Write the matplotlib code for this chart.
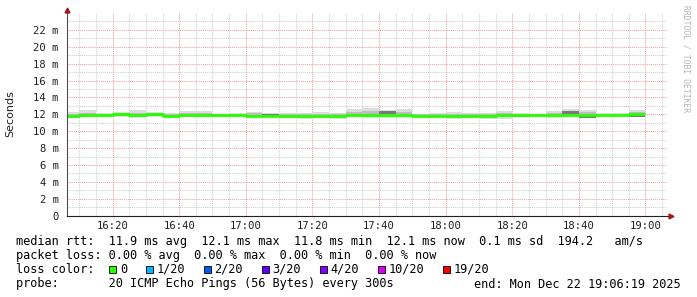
import matplotlib
matplotlib.use("Agg")
import matplotlib.pyplot as plt
import numpy as np
from matplotlib.patches import Rectangle

W, H = 697, 297
MONO = "DejaVu Sans Mono"

# 5-minute bins, minutes after 16:00 (bin start)
bin_start = list(range(5, 180, 5))
median = [11.80, 11.92, 11.92, 12.00, 11.96, 12.00, 11.83, 11.88, 11.90, 11.88,
          11.88, 11.83, 11.80, 11.82, 11.80, 11.84, 11.83, 11.88, 11.92, 11.88,
          11.92, 11.84, 11.84, 11.84, 11.84, 11.84, 11.87, 11.92, 11.92, 11.90,
          11.88, 11.88, 11.88, 11.88, 12.00]
ping_min = [11.61, 11.65, 11.65, 11.65, 11.61, 11.72, 11.61, 11.65, 11.65, 11.72,
            11.68, 11.65, 11.70, 11.61, 11.49, 11.61, 11.49, 11.68, 11.61, 11.61,
            11.61, 11.68, 11.68, 11.49, 11.61, 11.49, 11.49, 11.65, 11.65, 11.61,
            11.65, 11.57, 11.80, 11.80, 11.72]
ping_max = [12.28, 12.51, 12.16, 12.28, 12.51, 12.28, 12.16, 12.35, 12.35, 12.08,
            12.16, 12.28, 12.12, 12.20, 12.16, 12.28, 12.16, 12.65, 12.80, 12.50,
            12.65, 12.08, 12.16, 12.28, 12.20, 12.16, 12.45, 12.12, 12.04, 12.35,
            12.65, 12.51, 12.12, 12.12, 12.55]
q_low = [11.70, 11.75, 11.75, 11.75, 11.72, 11.80, 11.72, 11.76, 11.76, 11.78,
         11.76, 11.74, 11.75, 11.72, 11.68, 11.72, 11.68, 11.78, 11.80, 11.76,
         11.80, 11.76, 11.76, 11.72, 11.74, 11.70, 11.72, 11.76, 11.78, 11.76,
         11.76, 11.70, 11.82, 11.82, 11.80]
q_high = [12.08, 12.20, 12.06, 12.16, 12.20, 12.16, 12.02, 12.20, 12.16, 12.00,
          12.04, 12.20, 12.06, 12.06, 12.02, 12.10, 12.04, 12.30, 12.38, 12.36,
          12.30, 12.00, 12.04, 12.10, 12.06, 12.04, 12.20, 12.04, 12.00, 12.14,
          12.36, 12.26, 12.04, 12.04, 12.30]
dark_low = [np.nan] * 12 + [11.92] + [np.nan] * 6 + [12.04] + [np.nan] * 7 + [11.65] \
    + [np.nan] * 2 + [12.08, 11.61] + [np.nan] * 2 + [11.72]
dark_high = [np.nan] * 12 + [12.10] + [np.nan] * 6 + [12.35] + [np.nan] * 7 + [11.88] \
    + [np.nan] * 2 + [12.35, 11.80] + [np.nan] * 2 + [11.88]

t_start, t_end = 6 + 19 / 60, 186 + 19 / 60
xtick_pos = [20, 40, 60, 80, 100, 120, 140, 160, 180]
xtick_lab = ["16:20", "16:40", "17:00", "17:20", "17:40", "18:00", "18:20", "18:40", "19:00"]
ytick_pos = list(range(0, 23, 2))
ytick_lab = ["0"] + [f"{v} m" for v in ytick_pos[1:]]

loss_labels = ["0", "1/20", "2/20", "3/20", "4/20", "10/20", "19/20"]
loss_colors = ["#26ff00", "#00b8ff", "#0059ff", "#5e00ff", "#7e00ff", "#dd00ff", "#ff0000"]

fig = plt.figure(figsize=(W / 100, H / 100), dpi=100)
L, R, T, B = 67, 666.5, 13, 215.7
ax = fig.add_axes([L / W, 1 - B / H, (R - L) / W, (B - T) / H])
ax.set_xlim(t_start, t_end)
ax.set_ylim(0, 24)
for s in ax.spines.values():
    s.set_visible(False)
ax.tick_params(length=0, labelsize=7.6, colors="#202020")
ax.tick_params(axis="x", pad=4)
ax.tick_params(axis="y", pad=6)
ax.set_xticks(xtick_pos)
ax.set_xticklabels(xtick_lab, fontfamily=MONO)
ax.set_yticks(ytick_pos)
ax.set_yticklabels(ytick_lab, fontfamily=MONO)

# grid
dot = (0, (1, 1))
for m in range(10, 190, 5):
    if m % 20:
        ax.axvline(m, color="#cfcfcf", lw=0.75, ls=dot, zorder=0)
for v in range(1, 24, 2):
    ax.axhline(v, color="#cfcfcf", lw=0.75, ls=dot, zorder=0)
for m in xtick_pos:
    ax.axvline(m, color="#f0a0a0", lw=0.75, ls=dot, zorder=0)
for v in ytick_pos[1:]:
    ax.axhline(v, color="#f0a0a0", lw=0.75, ls=dot, zorder=0)

# smoke
for i, t0 in enumerate(bin_start):
    ax.add_patch(Rectangle((t0, ping_min[i]), 5, ping_max[i] - ping_min[i],
                           fc="#dcdcdc", ec="none", zorder=1))
    ax.add_patch(Rectangle((t0, q_low[i]), 5, q_high[i] - q_low[i],
                           fc="#bdbdbd", ec="none", zorder=1))
    if not np.isnan(dark_low[i]):
        ax.add_patch(Rectangle((t0, dark_low[i]), 5, dark_high[i] - dark_low[i],
                               fc="#7a7a7a", ec="none", zorder=1))

# median line
xs = bin_start + [bin_start[-1] + 5]
ys = median + [median[-1]]
ax.plot(xs, ys, drawstyle="steps-post", color="#26ff00", lw=2.0, zorder=3,
        solid_capstyle="butt")

# axes lines with arrows
ax.plot([t_start, t_start], [0, 24.4], color="#505050", lw=0.8, clip_on=False, zorder=4)
ax.plot([t_start, t_end + 1.5], [0, 0], color="#202020", lw=0.8, clip_on=False, zorder=4)
ax.plot([t_start], [24.4], marker="^", ms=3.5, color="#a01818", clip_on=False, zorder=5)
ax.plot([t_end + 1.5], [0], marker=">", ms=3.5, color="#a01818", clip_on=False, zorder=5)

fig.text(10 / W, 1 - 114 / H, "Seconds", rotation=90, ha="center", va="center",
         fontsize=8, color="#202020")
fig.text(686 / W, 1 - 5 / H, "RRDTOOL / TOBI OETIKER", rotation=270, ha="center",
         va="top", fontsize=5.8, family=MONO, color="#b4b4b4")


def put(px, py, s, **kw):
    fig.text(px / W, 1 - py / H, s, fontsize=8.55, family=MONO, color="black",
             va="baseline", **kw)


put(16, 244.5, "median rtt:  11.9 ms avg  12.1 ms max  11.8 ms min  "
    "12.1 ms now  0.1 ms sd  194.2   am/s")
put(16, 259, "packet loss: 0.00 % avg  0.00 % max  0.00 % min  0.00 % now")
put(16, 273, "loss color:")
put(16, 287.5, "probe:       20 ICMP Echo Pings (56 Bytes) every 300s")
put(681, 287.5, "end: Mon Dec 22 19:06:19 2025", ha="right")

cw = 7.12
bx = 109
for lab, col in zip(loss_labels, loss_colors):
    fig.patches.append(Rectangle((bx / W, 1 - 273 / H), 7 / W, 7 / H, fc=col,
                                 ec="black", lw=0.6, transform=fig.transFigure))
    put(bx + 11, 273, lab)
    bx = bx + 11 + len(lab) * cw + 18.5

fig.savefig("out.png", dpi=100)
